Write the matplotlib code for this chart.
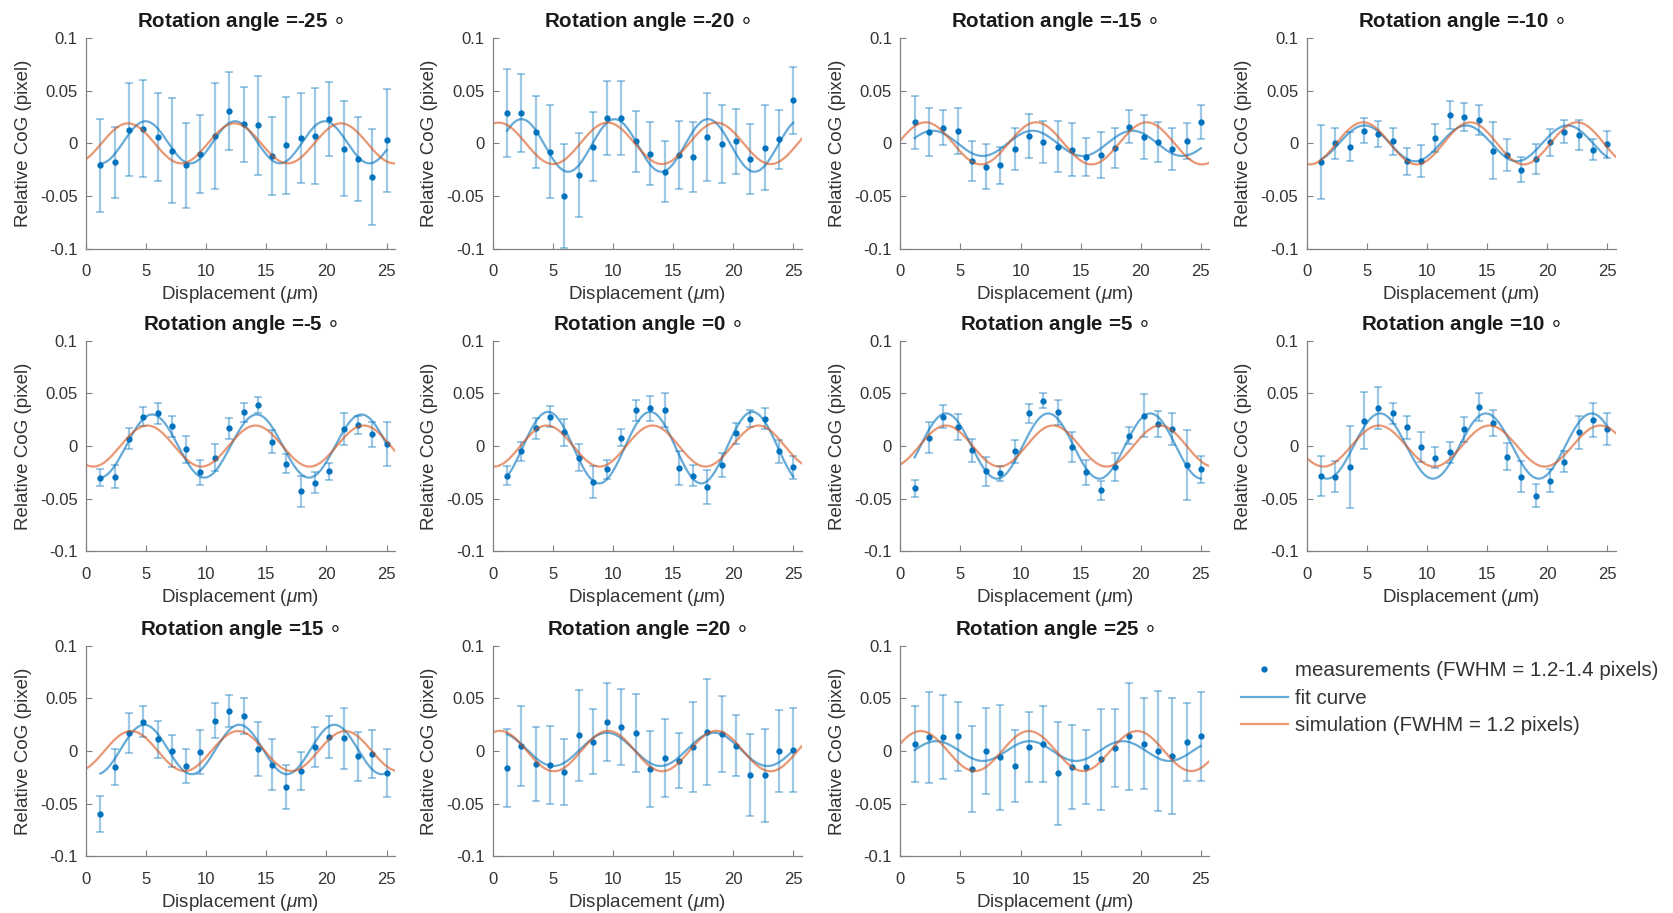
import numpy as np
import matplotlib
matplotlib.use("Agg")
import matplotlib.pyplot as plt
from matplotlib.lines import Line2D

plt.rcParams["font.family"] = ["Liberation Sans", "DejaVu Sans"]
plt.rcParams["mathtext.fontset"] = "custom"
plt.rcParams["mathtext.it"] = "Liberation Sans:italic"

BLUE = "#0072BD"
ORANGE = "#D95319"

angles = [-25, -20, -15, -10, -5, 0, 5, 10, 15, 20, 25]
displacement = [1.19, 2.38, 3.57, 4.76, 5.95, 7.14, 8.33, 9.52, 10.71, 11.90, 13.10,
                14.29, 15.48, 16.67, 17.86, 19.05, 20.24, 21.43, 22.62, 23.81, 25.00]

# measured relative CoG (pixel) and error bar half-widths, one pair per angle
cog_m25 = [-0.021, -0.018, 0.013, 0.014, 0.006, -0.007, -0.021, -0.010, 0.007, 0.031, 0.018,
           0.017, -0.012, -0.002, 0.005, 0.007, 0.023, -0.005, -0.015, -0.032, 0.003]
err_m25 = [0.044, 0.034, 0.044, 0.046, 0.042, 0.050, 0.040, 0.037, 0.050, 0.037, 0.036,
           0.047, 0.037, 0.046, 0.043, 0.046, 0.035, 0.045, 0.040, 0.046, 0.049]
cog_m20 = [0.029, 0.029, 0.011, -0.008, -0.050, -0.030, -0.003, 0.024, 0.024, 0.002, -0.010,
           -0.027, -0.011, -0.013, 0.006, -0.001, 0.002, -0.015, -0.004, 0.004, 0.041]
err_m20 = [0.042, 0.037, 0.034, 0.044, 0.049, 0.040, 0.033, 0.035, 0.035, 0.029, 0.030,
           0.029, 0.032, 0.033, 0.042, 0.037, 0.031, 0.033, 0.040, 0.028, 0.032]
cog_m15 = [0.020, 0.011, 0.015, 0.012, -0.017, -0.022, -0.021, -0.005, 0.007, 0.001, -0.003,
           -0.006, -0.013, -0.011, -0.004, 0.016, 0.006, 0.001, -0.005, 0.002, 0.020]
err_m15 = [0.025, 0.023, 0.017, 0.022, 0.019, 0.021, 0.018, 0.020, 0.021, 0.020, 0.024,
           0.025, 0.018, 0.022, 0.019, 0.016, 0.021, 0.019, 0.020, 0.017, 0.016]
cog_m10 = [-0.018, 0.000, -0.003, 0.012, 0.009, 0.002, -0.017, -0.017, 0.005, 0.027, 0.025,
           0.022, -0.007, -0.011, -0.025, -0.015, 0.001, 0.011, 0.008, -0.006, -0.001]
err_m10 = [0.035, 0.015, 0.014, 0.012, 0.012, 0.013, 0.013, 0.015, 0.013, 0.013, 0.013,
           0.014, 0.027, 0.015, 0.012, 0.014, 0.013, 0.011, 0.014, 0.010, 0.013]
cog_m5 = [-0.030, -0.029, 0.007, 0.028, 0.031, 0.019, -0.003, -0.025, -0.011, 0.017, 0.032,
          0.039, 0.004, -0.017, -0.043, -0.035, -0.024, 0.016, 0.020, 0.011, 0.002]
err_m5 = [0.008, 0.011, 0.010, 0.009, 0.010, 0.010, 0.013, 0.012, 0.013, 0.010, 0.009,
          0.008, 0.011, 0.009, 0.015, 0.010, 0.008, 0.015, 0.009, 0.012, 0.021]
cog_0 = [-0.028, -0.005, 0.017, 0.028, 0.013, -0.011, -0.034, -0.022, 0.008, 0.034, 0.036,
         0.034, -0.021, -0.028, -0.039, -0.018, 0.012, 0.026, 0.026, -0.005, -0.020]
err_0 = [0.009, 0.009, 0.010, 0.010, 0.013, 0.013, 0.015, 0.009, 0.008, 0.010, 0.012,
         0.016, 0.016, 0.010, 0.016, 0.011, 0.010, 0.008, 0.010, 0.011, 0.011]
cog_p5 = [-0.040, 0.008, 0.028, 0.018, -0.004, -0.024, -0.026, -0.005, 0.031, 0.043, 0.032,
          -0.001, -0.025, -0.042, -0.020, 0.010, 0.029, 0.021, 0.016, -0.018, -0.022]
err_p5 = [0.008, 0.015, 0.011, 0.012, 0.011, 0.014, 0.007, 0.011, 0.009, 0.007, 0.012,
          0.014, 0.012, 0.009, 0.013, 0.008, 0.020, 0.012, 0.015, 0.033, 0.013]
cog_p10 = [-0.028, -0.029, -0.020, 0.024, 0.036, 0.031, 0.018, -0.001, -0.011, -0.006, 0.016,
           0.037, 0.022, -0.010, -0.029, -0.047, -0.033, -0.015, 0.013, 0.025, 0.016]
err_p10 = [0.019, 0.015, 0.039, 0.027, 0.020, 0.010, 0.011, 0.014, 0.010, 0.010, 0.012,
           0.013, 0.012, 0.013, 0.015, 0.011, 0.011, 0.010, 0.016, 0.016, 0.015]
cog_p15 = [-0.060, -0.015, 0.017, 0.028, 0.011, 0.000, -0.014, -0.001, 0.029, 0.038, 0.033,
           0.002, -0.013, -0.034, -0.019, 0.004, 0.013, 0.012, -0.005, -0.003, -0.021]
err_p15 = [0.017, 0.017, 0.019, 0.015, 0.018, 0.015, 0.016, 0.021, 0.017, 0.015, 0.017,
           0.026, 0.024, 0.021, 0.018, 0.019, 0.020, 0.029, 0.023, 0.023, 0.023]
cog_p20 = [-0.016, 0.005, -0.012, -0.013, -0.020, 0.015, 0.009, 0.028, 0.023, 0.017, -0.017,
           -0.007, -0.009, 0.004, 0.018, 0.016, 0.005, -0.023, -0.023, 0.000, 0.001]
err_p20 = [0.037, 0.038, 0.035, 0.037, 0.031, 0.043, 0.031, 0.037, 0.036, 0.037, 0.036,
           0.037, 0.026, 0.043, 0.050, 0.036, 0.029, 0.039, 0.044, 0.039, 0.040]
cog_p25 = [0.007, 0.013, 0.013, 0.014, -0.017, 0.000, -0.006, -0.014, 0.004, 0.007, -0.021,
           -0.015, -0.015, -0.008, 0.003, 0.014, 0.007, 0.000, -0.005, 0.009, 0.014]
err_p25 = [0.036, 0.043, 0.040, 0.033, 0.041, 0.041, 0.050, 0.034, 0.033, 0.036, 0.049,
           0.040, 0.035, 0.048, 0.037, 0.051, 0.043, 0.057, 0.055, 0.037, 0.042]

cogs = [cog_m25, cog_m20, cog_m15, cog_m10, cog_m5, cog_0, cog_p5, cog_p10, cog_p15, cog_p20, cog_p25]
errs = [err_m25, err_m20, err_m15, err_m10, err_m5, err_0, err_p5, err_p10, err_p15, err_p20, err_p25]

# sinusoid parameters (amplitude, period um, position of a crest um, offset)
fit_amp = [0.020, 0.025, 0.012, 0.017, 0.030, 0.034, 0.031, 0.031, 0.0235, 0.0158, 0.0094]
fit_period = [7.45, 7.75, 8.3, 8.45, 8.7, 8.5, 8.5, 8.8, 7.9, 8.9, 7.75]
fit_crest = [4.95, 2.4, 2.7, 4.8, 5.5, 4.6, 3.8, 6.1, 4.85, 0.6, 3.0]
fit_offset = [0.001, -0.002, 0.0, 0.0, 0.0, -0.0015, 0.0, 0.0, 0.0015, 0.0016, 0.0]
sim_amp = [0.019, 0.0197, 0.020, 0.020, 0.0195, 0.0195, 0.0195, 0.0195, 0.019, 0.0192, 0.019]
sim_period = [8.85, 9.05, 9.2, 8.9, 9.0, 8.8, 8.9, 9.2, 8.9, 9.0, 9.0]
sim_crest = [3.5, 0.5, 2.1, 4.7, 5.1, 4.5, 3.8, 6.0, 3.75, 0.6, 1.7]

XMAX = 25.7

W, H = 1673, 913
fig = plt.figure(figsize=(W / 100, H / 100), dpi=100)
lefts = [86, 492.7, 900.3, 1306.7]
bottoms = [248.6, 551.3, 856.3]
aw, ah = 309, 210.5

for i, ang in enumerate(angles):
    r, c = divmod(i, 4)
    ax = fig.add_axes([lefts[c] / W, 1 - bottoms[r] / H, aw / W, ah / H])
    x = np.array(displacement)
    ax.errorbar(x, cogs[i], yerr=errs[i], fmt="none", ecolor=BLUE, alpha=0.38,
                elinewidth=1.6, capsize=3, capthick=1.4)
    ax.plot(x, cogs[i], ".", color=BLUE, ms=7)
    xf = np.linspace(displacement[0], displacement[-1], 300)
    ax.plot(xf, fit_offset[i] + fit_amp[i] * np.cos(2 * np.pi * (xf - fit_crest[i]) / fit_period[i]),
            color=BLUE, alpha=0.6, lw=1.6)
    xs = np.linspace(0, XMAX, 300)
    ax.plot(xs, sim_amp[i] * np.cos(2 * np.pi * (xs - sim_crest[i]) / sim_period[i]),
            color=ORANGE, alpha=0.6, lw=1.6)

    ax.set_xlim(0, XMAX)
    ax.set_ylim(-0.1, 0.1)
    ax.set_xticks([0, 5, 10, 15, 20, 25])
    ax.set_yticks([-0.1, -0.05, 0, 0.05, 0.1])
    ax.set_yticklabels(["-0.1", "-0.05", "0", "0.05", "0.1"])
    for s in ["top", "right"]:
        ax.spines[s].set_visible(False)
    for s in ["left", "bottom"]:
        ax.spines[s].set_color("#808080")
        ax.spines[s].set_linewidth(0.9)
    ax.tick_params(direction="in", length=4, width=0.8, color="#808080",
                   labelsize=12, labelcolor="#333333", pad=6)
    ax.tick_params(axis="x", pad=11)
    ax.set_xlabel(r"Displacement ($\mu$m)", fontsize=13.5, color="#333333", labelpad=4)
    ax.set_ylabel("Relative CoG (pixel)", fontsize=13.5, color="#333333", labelpad=6)
    ax.set_title(f"Rotation angle ={ang} $\\circ$", fontsize=14.8, fontweight="bold",
                 color="#1a1a1a", pad=8)
    ax.patch.set_alpha(0)

handles = [
    Line2D([], [], ls="none", marker=".", ms=7, color=BLUE),
    Line2D([], [], color=BLUE, alpha=0.6, lw=1.6),
    Line2D([], [], color=ORANGE, alpha=0.6, lw=1.6),
]
labels = ["measurements (FWHM = 1.2-1.4 pixels)", "fit curve", "simulation (FWHM = 1.2 pixels)"]
fig.legend(handles, labels, loc="upper left", bbox_to_anchor=(1222 / W, 1 - 643 / H),
           frameon=False, fontsize=14.8, handlelength=2.3, handletextpad=0.35,
           labelspacing=0.4, labelcolor="#333333")

fig.savefig("out.png", dpi=100, facecolor="white")
